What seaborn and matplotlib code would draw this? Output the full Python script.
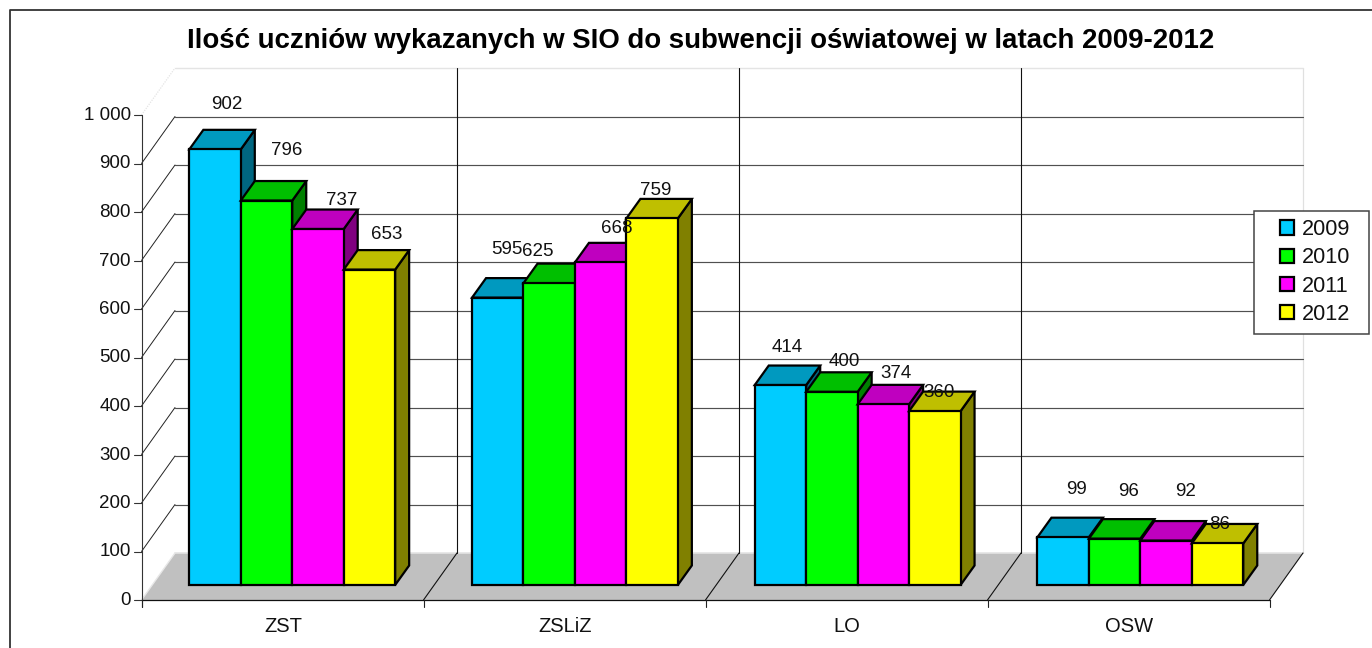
import matplotlib
matplotlib.use("Agg")
import matplotlib.pyplot as plt
from matplotlib.patches import Polygon, Rectangle
import pandas as pd
import seaborn as sns

# ---- data ----
title = "Ilość uczniów wykazanych w SIO do subwencji oświatowej w latach 2009-2012"
schools = ["ZST", "ZSLiZ", "LO", "OSW"]
years = ["2009", "2010", "2011", "2012"]
v2009 = [902, 595, 414, 99]
v2010 = [796, 625, 400, 96]
v2011 = [737, 668, 374, 92]
v2012 = [653, 759, 360, 86]
ytick_values = [0, 100, 200, 300, 400, 500, 600, 700, 800, 900, 1000]
ytick_labels = ["0", "100", "200", "300", "400", "500", "600", "700", "800", "900", "1 000"]

# ---- styles ----
front = ["#00CCFF", "#00FF00", "#FF00FF", "#FFFF00"]
top = ["#0099BF", "#00BF00", "#BF00BF", "#BFBF00"]
side = ["#006680", "#008000", "#800080", "#808000"]
# hand placement of each value label relative to its bar top, in pixels (per year, per school)
label_offsets = [
    [(12, 47), (9, 50), (7, 40), (13, 50)],
    [(20, 52), (-11, 34), (12, 32), (14, 49)],
    [(24, 31), (16, 36), (13, 33), (19, 51)],
    [(17, 37), (4, 30), (4, 21), (2, 21)],
]
W, H = 1372, 648
SANS = ["Liberation Sans", "DejaVu Sans"]

sns.set_theme(style="white")
plt.rcParams["font.family"] = SANS
fig = plt.figure(figsize=(W / 100, H / 100), dpi=100, facecolor="white")

# ---- background in pixel space: frame, walls, floor, axis ----
bg = fig.add_axes([0, 0, 1, 1])
bg.set_xlim(0, W)
bg.set_ylim(H, 0)
bg.axis("off")
AX_L, AX_R, FRONT_Y = 141.5, 1269.5, 600
BK_L, BK_R, BACK_Y = 175, 1303, 553
UNIT = 0.485
slots = [AX_L + (AX_R - AX_L) * i / 4 for i in range(5)]
bslots = [BK_L + (BK_R - BK_L) * i / 4 for i in range(5)]

bg.plot([10, 10, W], [H, 10, 10], color="#333333", lw=1.3)
bg.add_patch(Polygon([(AX_L, FRONT_Y), (AX_R, FRONT_Y), (BK_R, BACK_Y), (BK_L, BACK_Y)],
                     facecolor="#C0C0C0", edgecolor="none", zorder=1))
for v, lab in zip(ytick_values, ytick_labels):
    fy = FRONT_Y - UNIT * v
    by = BACK_Y - UNIT * v
    if v == 0:
        bg.plot([BK_L, BK_R], [by, by], color="#E4E4E4", lw=1.2, zorder=2)
        bg.plot([AX_L, BK_L], [fy, by], color="#E8E8E8", lw=1.0, zorder=2)
    elif v == 1000:
        bg.plot([BK_L, BK_R], [by, by], color="#E4E4E4", lw=1.0, zorder=2)
        bg.plot([AX_L, BK_L], [fy, by], color="#E4E4E4", lw=0.9, ls=(0, (1, 1)), zorder=2)
    else:
        bg.plot([BK_L, BK_R], [by, by], color="#505050", lw=0.85, zorder=2)
        bg.plot([AX_L, BK_L], [fy, by], color="#222222", lw=0.7, zorder=2)
    bg.plot([AX_L - 8, AX_L], [fy, fy], color="#333333", lw=0.8, zorder=3)
    bg.text(AX_L - 10.5, fy + 0.5, lab, ha="right", va="center", fontsize=13.5, color="#111111")
bg.plot([BK_R, BK_R], [BACK_Y, BACK_Y - UNIT * 1000], color="#E0E0E0", lw=0.9, zorder=1)
for i in range(1, 4):
    bg.plot([bslots[i], bslots[i]], [BACK_Y, BACK_Y - UNIT * 1000], color="#111111", lw=0.8, zorder=2)
for i in range(1, 5):
    bg.plot([slots[i], bslots[i]], [FRONT_Y, BACK_Y], color="#111111", lw=0.8, zorder=2)
bg.plot([AX_L, AX_L], [FRONT_Y + 7, FRONT_Y - UNIT * 1000], color="#333333", lw=0.8, zorder=3)
bg.plot([AX_L, AX_R], [FRONT_Y, FRONT_Y], color="#111111", lw=0.9, zorder=3)
for i in range(5):
    bg.plot([slots[i], slots[i]], [FRONT_Y, FRONT_Y + 7], color="#222222", lw=0.8, zorder=3)
for i, s in enumerate(schools):
    bg.text((slots[i] + slots[i + 1]) / 2 + 0.5, 632.5, s, ha="center", va="baseline", fontsize=14.5, color="#111111")
bg.text(701, 40.5, title, ha="center", va="center", fontsize=19.88, fontweight="bold", color="black")
bg.add_patch(Rectangle((1253.5, 211), 115, 123, facecolor="white", edgecolor="#444444", lw=1.1, zorder=5))

# ---- bars: front plane of the box ----
BAR_L, BAR_R, BAR_Y0 = 150.9, 1281.7, 585
BAR_UNIT = 0.483
ax = fig.add_axes([BAR_L / W, 1 - BAR_Y0 / H, (BAR_R - BAR_L) / W, BAR_UNIT * 1000 / H])
ax.patch.set_alpha(0)
df = pd.DataFrame({
    "school": schools * 4,
    "year": [y for y in years for _ in schools],
    "n": v2009 + v2010 + v2011 + v2012,
})
sns.barplot(data=df, x="school", y="n", hue="year", order=schools, hue_order=years,
            palette=front, saturation=1, width=0.728, gap=0, dodge=True,
            edgecolor="black", linewidth=1.6, errorbar=None, ax=ax)
ax.set_xlim(-0.5, 3.5)
ax.set_ylim(0, 1000)
ax.axis("off")
handles, labels = ax.get_legend_handles_labels()
ax.get_legend().remove()

DX_PX, DY_PX = 14, 19.5
px_x = (len(schools)) / (BAR_R - BAR_L)
dx = DX_PX * px_x
dy = DY_PX / BAR_UNIT
for j in range(len(schools)):
    for k, cont in enumerate(ax.containers):
        b = cont.patches[j]
        x0, w, h = b.get_x(), b.get_width(), b.get_height()
        base = 10 * (j * 4 + k) + 3
        common = dict(edgecolor="black", linewidth=1.6, joinstyle="miter", clip_on=False)
        ax.add_patch(Polygon([(x0 + w, 0), (x0 + w + dx, dy), (x0 + w + dx, h + dy), (x0 + w, h)],
                             facecolor=side[k], zorder=base, **common))
        ax.add_patch(Polygon([(x0, h), (x0 + w, h), (x0 + w + dx, h + dy), (x0 + dx, h + dy)],
                             facecolor=top[k], zorder=base + 1, **common))
        b.set_zorder(base + 2)
        b.set_clip_on(False)
        off = label_offsets[k][j]
        ax.annotate(str(int(h)), xy=(x0 + w / 2, h), xytext=(off[0], off[1] - 2),
                    textcoords="offset pixels",
                    ha="center", va="center", fontsize=13.5, color="#111111",
                    zorder=1000, annotation_clip=False)

leg = ax.legend(handles, labels, loc="center left", frameon=False, fontsize=15.6,
                bbox_to_anchor=(1280 / W, 1 - 272 / H), bbox_transform=fig.transFigure,
                handlelength=0.65, handleheight=0.65, handletextpad=0.36, labelspacing=0.33,
                borderpad=0, borderaxespad=0)
leg.set_zorder(1001)
for t in leg.get_texts():
    t.set_color("#111111")

fig.savefig("out.png", dpi=100)
